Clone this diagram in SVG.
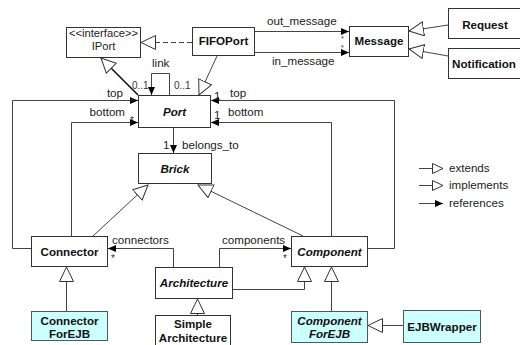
<svg xmlns="http://www.w3.org/2000/svg" width="520" height="345" viewBox="0 0 520 345">
<style>
.box{fill:#fff;stroke:#333;stroke-width:1}
.ejb{fill:#ccffff;stroke:#555;stroke-width:1}
.n{font-family:"Liberation Sans",Arial,sans-serif;font-size:11.6px;font-weight:bold;fill:#111;text-anchor:middle}
.ni{font-style:italic}
.l{font-family:"Liberation Sans",Arial,sans-serif;font-size:11.6px;fill:#222}
.s{font-family:"Liberation Sans",Arial,sans-serif;font-size:10px;fill:#333}
.a{font-family:"Liberation Sans",Arial,sans-serif;font-size:7px;fill:#333}
.c{fill:none;stroke:#444;stroke-width:1}
.dash{stroke-dasharray:5,3}
.tri{marker-end:url(#tri)}
.arr{marker-end:url(#arr)}
</style>
<defs>
<marker id="tri" markerUnits="userSpaceOnUse" markerWidth="17" markerHeight="17" refX="15" refY="7.5" orient="auto">
<path d="M0.5,0.5 L15,7.5 L0.5,14.5 z" fill="#fff" stroke="#333" stroke-width="1"/>
</marker>
<marker id="triS" markerUnits="userSpaceOnUse" markerWidth="13" markerHeight="12" refX="11" refY="5.5" orient="auto">
<path d="M0.5,0.5 L11,5.5 L0.5,10.5 z" fill="#fff" stroke="#333" stroke-width="1"/>
</marker>
<marker id="arr" markerUnits="userSpaceOnUse" markerWidth="10" markerHeight="8" refX="8" refY="3.5" orient="auto">
<path d="M0,0 L8,3.5 L0,7 z" fill="#000"/>
</marker>
</defs>

<g id="connectors">
<path class="c dash tri" d="M192,42.5 H141"/>
<path class="c tri" style="stroke:#111;stroke-width:1.6" d="M138,95 L101,58"/>
<path class="c tri" d="M217,56 L199,95"/>
<path class="c arr" d="M169.5,95 V73.5 H151.5 V95"/>
<path class="c arr" d="M255,31.5 H349"/>
<path class="c arr" d="M255,52.5 H349"/>
<path class="c tri" d="M448,25 L409,31"/>
<path class="c tri" d="M448,56 L409,49"/>
<path class="c arr" d="M31,248.5 H12.5 V100.5 H138"/>
<path class="c arr" d="M71.5,236 V122.5 H138"/>
<path class="c arr" d="M367,248.5 H394.5 V100.5 H211"/>
<path class="c arr" d="M331.5,236 V122.5 H211"/>
<path class="c arr" d="M173.5,128 V153"/>
<path class="c tri" d="M93,236 L148,185"/>
<path class="c tri" d="M303,236 L198,185"/>
<path class="c arr" d="M173.5,267 V248.5 H108"/>
<path class="c arr" d="M219.5,267 V248.5 H291"/>
<path class="c tri" d="M233,289.5 H304.5 V267"/>
<path class="c tri" d="M331.5,311 V267"/>
<path class="c tri" d="M197.5,315 V299"/>
<path class="c tri" d="M66.5,311 V267"/>
<path class="c tri" d="M403,325.5 H368"/>
<text class="l" x="267" y="25">out_message</text>
<text class="l" x="272" y="65">in_message</text>
<text class="a" x="341" y="41">*</text>
<text class="a" x="341" y="50">*</text>
<text class="l" x="152" y="67">link</text>
<text class="s" x="132" y="89">0..1</text>
<text class="s" x="174" y="89">0..1</text>
<text class="l" x="123" y="97" text-anchor="end">top</text>
<text class="l" x="125" y="116" text-anchor="end">bottom</text>
<text class="s" x="130" y="106">*</text>
<text class="s" x="130" y="124">*</text>
<text class="l" x="214" y="100">1</text>
<text class="l" x="230" y="97">top</text>
<text class="l" x="214" y="119">1</text>
<text class="l" x="228" y="116">bottom</text>
<text class="l" x="163" y="149">1</text>
<text class="l" x="182" y="149">belongs_to</text>
<text class="l" x="112" y="244">connectors</text>
<text class="s" x="111" y="262">*</text>
<text class="l" x="222" y="244">components</text>
<text class="s" x="283" y="262">*</text>
</g>

<g id="IPort"><rect class="box" x="66.5" y="27.5" width="74" height="30"/>
<text class="l" x="103.5" y="37" text-anchor="middle" style="font-size:11.2px">&lt;&lt;interface&gt;&gt;</text>
<text class="l" x="103.5" y="50" text-anchor="middle" style="font-size:11.2px">IPort</text></g>
<g id="FIFOPort"><rect class="box" x="192.5" y="27.5" width="62" height="28"/><text class="n" x="223.5" y="45">FIFOPort</text></g>
<g id="Message"><rect class="box" x="349.5" y="26.5" width="59" height="30"/><text class="n" x="379" y="45">Message</text></g>
<g id="Request"><rect class="box" x="448.5" y="8.5" width="80" height="30"/><text class="n" x="485" y="29">Request</text></g>
<g id="Notification"><rect class="box" x="448.5" y="48.5" width="80" height="30"/><text class="n" x="484" y="68">Notification</text></g>
<g id="Port"><rect class="box" x="138.5" y="95.5" width="72" height="32"/><text class="n ni" x="174.5" y="116">Port</text></g>
<g id="Brick"><rect class="box" x="138.5" y="153.5" width="73" height="30"/><text class="n ni" x="175" y="173">Brick</text></g>
<g id="Connector"><rect class="box" x="31.5" y="236.5" width="76" height="30"/><text class="n" x="69.5" y="256">Connector</text></g>
<g id="ConnectorForEJB"><rect class="ejb" x="31.5" y="311.5" width="76" height="29"/><text class="n" x="69.5" y="325">Connector</text><text class="n" x="69.5" y="338">ForEJB</text></g>
<g id="Architecture"><rect class="box" x="155.5" y="267.5" width="77" height="31"/><text class="n ni" x="194" y="287">Architecture</text></g>
<g id="SimpleArchitecture"><rect class="box" x="155.5" y="315.5" width="75" height="35"/><text class="n" x="193" y="328">Simple</text><text class="n" x="193" y="342">Architecture</text></g>
<g id="Component"><rect class="box" x="291.5" y="236.5" width="76" height="30"/><text class="n ni" x="329.5" y="256">Component</text></g>
<g id="ComponentForEJB"><rect class="ejb" x="291.5" y="311.5" width="76" height="31"/><text class="n ni" x="329.5" y="325">Component</text><text class="n ni" x="329.5" y="338">ForEJB</text></g>
<g id="EJBWrapper"><rect class="ejb" x="403.5" y="310.5" width="77" height="32"/><text class="n" x="442" y="331">EJBWrapper</text></g>

<g id="legend">
<path class="c" style="marker-end:url(#triS)" d="M419,168.5 H443"/>
<path class="c" style="marker-end:url(#triS)" d="M419,185.5 H443"/>
<path class="c arr" d="M419,203.5 H443"/>
<text class="l" x="449" y="172">extends</text>
<text class="l" x="449" y="189">implements</text>
<text class="l" x="449" y="207">references</text>
</g>
</svg>
